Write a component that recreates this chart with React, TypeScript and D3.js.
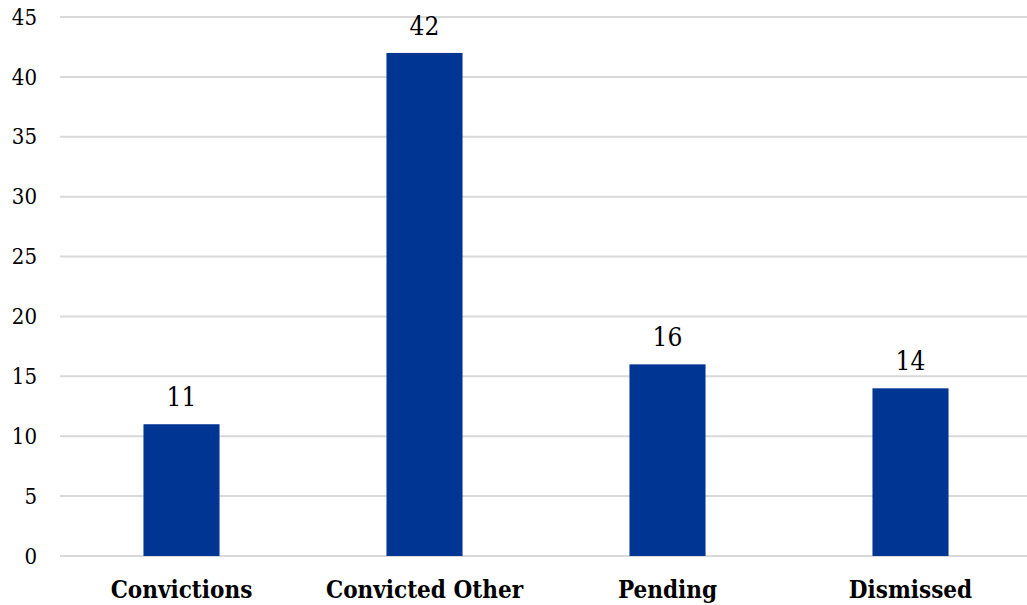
import React from "react";
import * as d3 from "d3";

const categories = ["Convictions", "Convicted Other", "Pending", "Dismissed"];
const counts = [11, 42, 16, 14];
const yTicks = [0, 5, 10, 15, 20, 25, 30, 35, 40, 45];

const W = 1027;
const H = 605;
const margin = { left: 60, right: -5, top: 17, bottom: 49 };
const serif = "'DejaVu Serif Condensed', 'DejaVu Serif', serif";

export default function App() {
  const x = d3
    .scaleBand<string>()
    .domain(categories)
    .range([margin.left, W - margin.right])
    .paddingInner(0.687)
    .paddingOuter(0.3435);
  const y = d3
    .scaleLinear()
    .domain([0, 45])
    .range([H - margin.bottom, margin.top]);

  return (
    <svg
      width={W}
      height={H}
      style={{ position: "absolute", left: 0, top: 0, background: "#fff" }}
    >
      {yTicks.map((t) => (
        <g key={t}>
          <line
            x1={margin.left}
            x2={W}
            y1={y(t)}
            y2={y(t)}
            stroke="#d9d9d9"
            strokeWidth={2}
          />
          <text
            x={37}
            y={y(t)}
            dy="0.35em"
            textAnchor="end"
            fontFamily={serif}
            fontSize={22}
            fill="#000"
          >
            {t}
          </text>
        </g>
      ))}
      {categories.map((c, i) => (
        <g key={c}>
          <rect
            x={x(c)}
            y={y(counts[i])}
            width={x.bandwidth()}
            height={y(0) - y(counts[i])}
            fill="#003594"
          />
          <text
            x={(x(c) as number) + x.bandwidth() / 2}
            y={y(counts[i]) - 18}
            textAnchor="middle"
            fontFamily={serif}
            fontSize={26}
            fill="#000"
          >
            {counts[i]}
          </text>
          <text
            x={(x(c) as number) + x.bandwidth() / 2}
            y={598}
            textAnchor="middle"
            fontFamily={serif}
            fontWeight="bold"
            fontSize={24}
            fill="#000"
          >
            {c}
          </text>
        </g>
      ))}
    </svg>
  );
}
